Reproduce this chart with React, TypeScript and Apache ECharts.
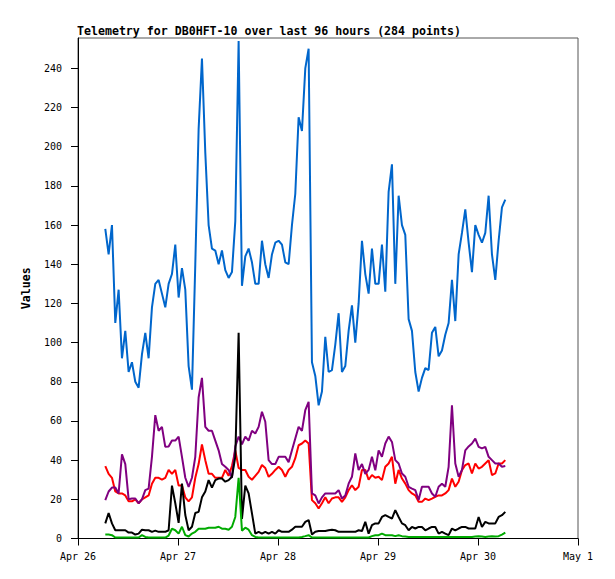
import React, { useEffect, useRef } from "react";
import * as echarts from "echarts";

const chartTitle = "Telemetry for DB0HFT-10 over last 96 hours (284 points)";
const dayLabels = ["Apr 26", "Apr 27", "Apr 28", "Apr 29", "Apr 30", "May 1"];
const yTicks = [0, 20, 40, 60, 80, 100, 120, 140, 160, 180, 200, 220, 240];
// hours since Apr 26 00:00 of the first reading, and spacing between readings
const startHour = 6.55;
const stepHours = 0.8;

const blue = [
  158, 145, 160, 110, 127, 92, 106, 85, 90, 80,
  77, 94, 105, 92, 118, 130, 132, 125, 118, 130,
  135, 150, 123, 138, 127, 88, 76, 140, 209, 245,
  197, 160, 148, 147, 140, 147, 137, 133, 136, 162,
  254, 129, 144, 148, 141, 130, 130, 152, 140, 133,
  145, 151, 152, 150, 141, 140, 160, 176, 215, 208,
  240, 250, 90, 83, 68, 75, 103, 85, 86, 99,
  115, 85, 88, 106, 119, 100, 120, 152, 135, 125,
  148, 130, 130, 150, 126, 177, 191, 130, 175, 160,
  155, 112, 106, 85, 75, 82, 87, 86, 105, 108,
  93, 96, 104, 110, 132, 111, 145, 156, 168, 151,
  136, 160, 155, 151, 156, 175, 145, 132, 152, 169,
  173,
];

const red = [
  37, 33, 31, 24, 23, 23, 22, 19, 19, 20,
  18, 20, 21, 22, 28, 31, 31, 30, 31, 35,
  33, 35, 27, 27, 21, 19, 21, 31, 38, 48,
  40, 33, 33, 31, 31, 31, 35, 32, 37, 45,
  36, 35, 35, 31.5, 30, 32, 34, 37.5, 36, 31.5,
  33, 35, 36.6, 35, 31.5, 35, 36.6, 41, 47.6, 48.5,
  50, 48.5, 19.6, 18, 15.3, 18, 21, 18, 20.4, 21,
  21, 18.7, 21, 24.7, 27.2, 24.7, 26.4, 35, 35, 30,
  32.4, 31, 31.5, 29.8, 36.6, 38.3, 41.7, 28, 35, 30.6,
  28, 24.7, 23, 22, 18.7, 18.7, 20.4, 19.6, 20.4, 21.3,
  22, 22, 23, 24.7, 30.6, 26.4, 29, 34.9, 37.5, 38.3,
  33.2, 38.3, 35.7, 36.6, 38.3, 40, 32.4, 33.2, 38.3, 38.3,
  40,
];

const purple = [
  19.6, 24, 26, 26, 23, 43, 38, 20, 20.4, 20.4,
  18, 20, 24.7, 25.5, 41.7, 63, 55, 57, 46.8, 47,
  50, 50, 52, 41.7, 31, 26.4, 31, 41.7, 72, 82,
  57, 55, 55, 50, 45, 38, 36.6, 35, 31, 47,
  52, 48, 52, 50, 55, 53.6, 57, 64.7, 59.6, 40,
  38, 38, 41.7, 41.7, 41.7, 39, 45, 51, 57, 55,
  65.5, 69.8, 23, 22, 17.9, 21, 23, 23, 23, 23,
  24.7, 20.4, 22, 28, 31.5, 43.4, 35, 38, 33, 35,
  41.7, 34.8, 45, 41.7, 48.5, 52, 49.3, 40, 38.3, 33.2,
  31.5, 26.4, 25.5, 24.7, 19.6, 26.4, 26.4, 26.4, 23, 21.3,
  26.4, 28, 26.4, 36.6, 68, 38.3, 31.5, 35, 45, 47,
  48.5, 51, 46.8, 46, 46.8, 41.7, 40, 38.3, 38.3, 36.6,
  37,
];

const black = [
  7.7, 13, 7.7, 4.2, 4.2, 4.2, 4.2, 3, 3, 2,
  2.5, 4.5, 4.2, 4.2, 3.4, 4, 3.4, 3.4, 3.4, 4.2,
  27, 18, 8, 28, 12, 4.2, 6, 13, 13.6, 21,
  24, 29.8, 26, 29.8, 30.6, 30.6, 29, 29.8, 31.5, 41.7,
  105, 10, 27, 23, 12.8, 2.5, 3.4, 2.5, 3.4, 2.5,
  3.4, 2.5, 4.2, 3.4, 3.4, 3.4, 4.5, 6, 6, 6,
  8.5, 9.4, 2, 3.4, 3.8, 3.8, 3.8, 4.2, 4.5, 4.2,
  3.4, 3.4, 3.4, 3.4, 3.4, 3.4, 4.2, 3.8, 8.5, 2.5,
  6.8, 7.7, 7.7, 11, 11.9, 11, 10.2, 14.5, 11, 7.7,
  6.8, 4.2, 5.9, 5.1, 5.9, 5.9, 4.2, 5.1, 5.9, 5.9,
  2.5, 3.4, 2.5, 1.7, 5.1, 4.2, 5.1, 5.9, 5.9, 5.1,
  5.1, 5.1, 11, 5.9, 8.5, 7.7, 7.7, 7.7, 11, 11.9,
  13.6,
];

const green = [
  2, 2, 1.7, 0.5, 0.5, 0.5, 0.5, 0.5, 0.5, 0.5,
  0.5, 1.7, 0.8, 0.5, 0.5, 0.5, 0.5, 0.5, 0.5, 1.5,
  5, 4.2, 2.5, 6, 1.7, 1, 2.5, 3.4, 5, 5,
  5, 5.5, 5.5, 5.5, 6, 5, 5, 4.5, 6, 11,
  31, 4, 5.5, 4.5, 1.7, 0.8, 0.5, 0.5, 0.5, 0.5,
  0.5, 0.5, 0.5, 0.5, 0.5, 0.5, 0.5, 0.5, 0.5, 0.8,
  1.2, 1.7, 0.5, 0.5, 0.5, 0.5, 0.5, 0.5, 0.5, 0.5,
  0.5, 0.5, 0.5, 0.5, 0.5, 0.5, 0.5, 0.5, 0.5, 0.5,
  1.2, 1.7, 1.7, 2.5, 1.7, 1.7, 1.7, 1.2, 1.7, 1.2,
  1, 0.8, 0.8, 0.8, 0.8, 0.8, 0.8, 0.8, 0.8, 0.8,
  0.8, 0.8, 0.8, 0.8, 0.8, 0.8, 0.8, 0.8, 0.8, 0.8,
  0.8, 1, 1.2, 1, 0.8, 1, 1.2, 1, 1.2, 2,
  3,
];

const seriesDefs = [
  { name: "blue", data: blue, color: "#0066cc" },
  { name: "red", data: red, color: "#ff0000" },
  { name: "purple", data: purple, color: "#800080" },
  { name: "black", data: black, color: "#000000" },
  { name: "green", data: green, color: "#00aa00" },
];

const MONO = "'DejaVu Sans Mono', 'Liberation Mono', monospace";

export default function App() {
  const ref = useRef<HTMLDivElement>(null);
  useEffect(() => {
    if (!ref.current) return;
    const chart = echarts.init(ref.current, null, { renderer: "svg" });
    const hours = blue.map((_, i) => Math.round((startHour + i * stepHours) * 100) / 100);
    chart.setOption({
      animation: false,
      backgroundColor: "#ffffff",
      title: {
        text: chartTitle,
        left: 77,
        top: 25,
        padding: 0,
        textStyle: { fontFamily: MONO, fontWeight: "bold", fontSize: 11.6, color: "#000" },
      },
      grid: { left: 78, right: 37, top: 38, bottom: 40.5, show: true, borderColor: "#555", borderWidth: 1, backgroundColor: "transparent" },
      xAxis: {
        type: "value",
        min: 0,
        max: 120,
        interval: 24,
        axisLine: { show: true, onZero: false, lineStyle: { color: "#000", width: 1 } },
        axisTick: { show: true, length: 7, lineStyle: { color: "#000", width: 1 } },
        axisLabel: {
          formatter: (v: number) => dayLabels[Math.round(v / 24)] ?? "",
          margin: 13,
          fontFamily: MONO,
          fontSize: 10,
          color: "#000",
          showMinLabel: true,
          showMaxLabel: true,
        },
        splitLine: { show: false },
      },
      yAxis: {
        type: "value",
        min: 0,
        max: 255.5,
        name: "Values",
        nameLocation: "middle",
        nameGap: 46,
        nameRotate: 90,
        nameTextStyle: { fontFamily: MONO, fontWeight: "bold", fontSize: 11.6, color: "#000" },
        axisLine: { show: true, onZero: false, lineStyle: { color: "#000", width: 1 } },
        axisTick: { show: true, length: 7, customValues: yTicks, lineStyle: { color: "#000", width: 1 } },
        axisLabel: { customValues: yTicks, margin: 16, fontFamily: MONO, fontSize: 10, color: "#000" },
        splitLine: { show: false },
      },
      series: seriesDefs.map((s) => ({
        type: "line",
        name: s.name,
        data: hours.map((h, i) => [h, s.data[i]]),
        showSymbol: false,
        symbol: "none",
        lineStyle: { color: s.color, width: 2 },
        itemStyle: { color: s.color },
        emphasis: { disabled: true },
        animation: false,
      })),
    });
    return () => chart.dispose();
  }, []);
  return <div ref={ref} style={{ position: "fixed", left: 0, top: 0, width: 615, height: 579 }} />;
}
